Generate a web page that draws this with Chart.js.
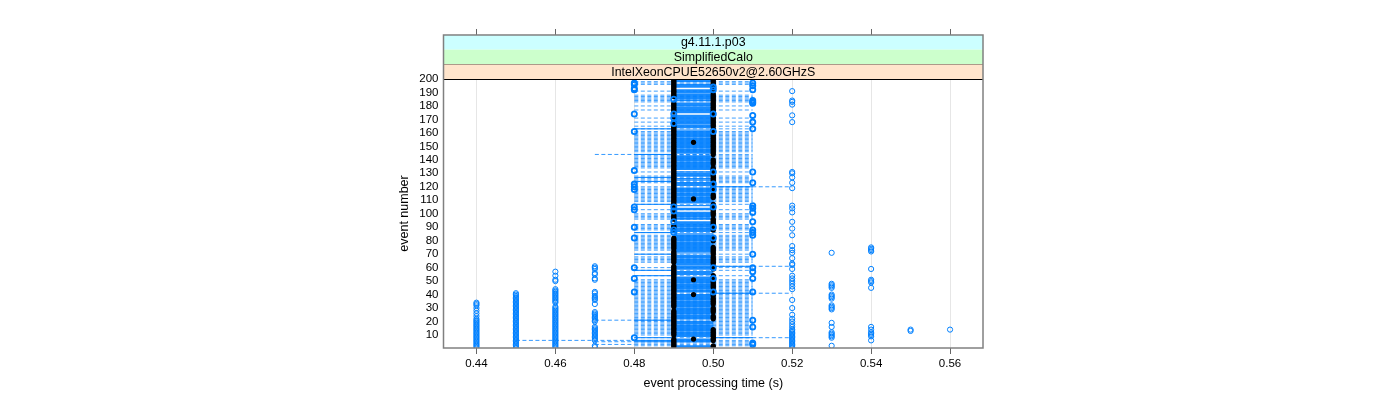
<!DOCTYPE html>
<html>
<head>
<meta charset="utf-8">
<title>event processing time</title>
<script src="https://cdn.jsdelivr.net/npm/chart.js@4"></script>
<style>
html, body { margin: 0; padding: 0; background: #fff; }
canvas { display: block; }
</style>
</head>
<body>
<canvas id="timeChart" width="1400" height="400"></canvas>
<script>
const xTicks = [0.44, 0.46, 0.48, 0.50, 0.52, 0.54, 0.56];
const yTicks = [10, 20, 30, 40, 50, 60, 70, 80, 90, 100, 110, 120, 130, 140, 150, 160, 170, 180, 190, 200];
const stripLabels = ["g4.11.1.p03", "SimplifiedCalo", "IntelXeonCPUE52650v2@2.60GHzS"];

// event numbers that have a run at each measured time (blue circles)
const events044 = [1,2,3,4,5,6,7,8,9,10,11,12,13,14,15,16,17,18,19,20,21,22,24,26,28,30,32,33,34];
const events045 = [1,2,3,4,5,6,7,8,9,10,11,12,13,14,15,16,17,18,19,20,21,22,23,24,25,26,27,28,29,30,31,32,33,34,35,36,37,38,39,40,41];
const events046 = [1,2,3,4,5,6,7,8,9,10,11,12,13,14,15,16,17,18,19,20,21,22,23,24,25,26,27,28,29,30,31,34,35,36,37,38,39,40,41,42,43,44,50,51,54,57];
const events047 = [1,2,6,7,8,9,10,11,12,13,14,15,16,20,21,22,23,24,25,26,27,33,36,37,38,39,41,42,51,52,55,56,59,60,61];
const events048 = [8,42,52,60,82,90,103,105,118,120,122,132,161,174,192,193,196,197];
const events049 = [86,88,94,102,105,167,171,174,185];
const events050 = [42,52,60,82,90,105,118,122,131,161,174,192,194];
const events051 = [3,4,16,21,42,52,57,60,70,84,86,88,94,101,104,106,123,131,163,168,173,182,183,184,192,195,197];
const events052 = [1,2,3,4,5,6,7,8,9,10,11,12,13,14,16,18,20,22,25,30,36,44,46,48,50,52,54,59,62,63,67,71,73,76,84,89,94,101,104,106,119,123,127,130,131,168,173,181,183,184,191];
const events053 = [2,8,9,10,11,12,16,19,29,30,31,32,37,38,39,40,45,46,47,48,71];
const events054 = [6,9,10,11,12,14,16,45,49,50,51,59,72,73,74,75];
const events055 = [13,14];
const events056 = [14];

// events whose median falls on each time (black dots)
const median049 = [1,2,3,4,5,6,7,10,11,12,13,14,15,16,17,18,19,20,21,22,23,24,25,26,27,28,31,32,33,34,35,36,37,38,39,40,41,42,43,44,45,46,47,48,49,50,51,52,53,54,55,56,57,58,59,60,61,64,65,66,67,68,69,70,71,72,74,75,76,77,78,79,80,81,82,88,89,90,91,96,97,98,99,102,105,107,108,109,110,111,112,113,114,115,116,117,118,119,120,121,122,123,124,125,126,127,128,129,130,131,132,133,134,135,136,137,138,139,140,141,142,143,144,145,146,147,148,149,150,151,152,153,154,155,156,157,158,159,160,161,162,163,164,165,166,168,172,176,177,178,179,180,181,182,187,188,189,190,191,192,193,194,195,196,197,198,199];
const median050 = [1,2,6,7,8,9,10,11,12,13,14,22,23,24,27,28,29,30,33,34,35,36,37,39,40,41,42,43,45,46,47,48,49,50,51,52,53,54,59,60,61,63,64,65,66,67,68,70,71,72,73,74,75,80,81,82,88,89,90,91,92,93,94,95,96,99,100,101,102,103,104,105,106,107,112,113,114,118,119,120,121,122,124,125,126,127,128,129,130,131,132,133,134,137,138,139,140,144,145,146,147,148,149,150,151,152,153,154,155,156,157,158,159,160,161,162,163,165,166,167,168,169,170,171,172,173,174,175,176,177,178,179,180,181,182,183,184,185,186,187,188,189,193,194,195,196,197,198,199];
const median0495 = [7, 40, 51, 111, 153];

// dashed rows running across the whole 0.48 - 0.51 block
const bandRows = [2,3,4,5,6,8,10,11,12,13,14,15,16,17,18,19,20,21,22,23,24,25,26,27,28,29,30,31,32,33,34,35,36,37,38,39,40,41,42,43,44,45,46,47,48,49,50,51,54,58,60,64,65,66,67,68,70,73,74,75,76,77,78,79,80,81,82,83,84,86,88,89,90,91,92,96,97,98,99,100,103,107,109,110,111,112,113,114,115,116,117,118,119,120,123,124,125,126,127,128,131,134,135,136,137,138,139,140,141,142,143,144,146,147,148,149,150,151,152,153,154,155,156,157,158,159,160,161,163,165,168,171,177,180,183,184,185,186,187,188,191,196,197,198];
// rows that are solid between 0.49 and 0.50
const coreRows = [1,2,5,6,7,9,10,11,12,13,14,15,16,17,18,19,20,22,23,24,25,26,27,28,29,30,31,32,33,34,35,36,37,38,39,40,42,43,44,45,46,47,48,49,50,51,52,53,55,56,57,59,60,61,62,63,64,65,66,67,68,69,71,72,73,74,75,76,77,78,79,80,81,82,83,84,85,87,88,89,90,91,92,93,94,96,97,98,99,100,101,103,104,106,108,109,110,111,112,113,114,115,116,117,118,119,121,122,123,125,126,128,129,130,131,133,134,135,136,137,138,139,140,141,142,143,145,146,147,148,149,150,151,152,153,154,155,156,157,158,159,160,161,162,164,165,166,167,168,169,170,171,172,173,175,176,177,178,179,180,181,182,184,185,186,187,188,189,190,191,192,194,195,196,198,199];
// rows that look solid on one side of the block
const solidLeftRows = [5,6,8,21,54,58,70,86,107,124,127,144,163];
const solidRightRows = [8,41,61,120];
// long dashed rows that reach out from the block: event, from, to
const longEvents = [144, 6, 5, 3, 21, 120, 61, 41, 8];
const longFrom = [0.47, 0.45, 0.47, 0.47, 0.47, 0.50, 0.50, 0.50, 0.50];
const longTo = [0.50, 0.48, 0.48, 0.48, 0.49, 0.52, 0.52, 0.52, 0.52];

const blue = "#0080ff";
const paleBlue = "rgba(0, 128, 255, 0.75)";

// one dataset with gaps: every row is its own dash run
function rowLine(rows, from, to) {
    const points = [];
    rows.forEach((row, i) => {
        points.push({ x: Array.isArray(from) ? from[i] : from, y: row });
        points.push({ x: Array.isArray(to) ? to[i] : to, y: row });
        points.push({ x: NaN, y: NaN });
    });
    return points;
}

function columnPoints(time, events) {
    return events.map(e => ({ x: time, y: e }));
}

const thinCircles = [
    ...columnPoints(0.44, events044), ...columnPoints(0.45, events045), ...columnPoints(0.46, events046),
    ...columnPoints(0.47, events047), ...columnPoints(0.52, events052), ...columnPoints(0.53, events053),
    ...columnPoints(0.54, events054), ...columnPoints(0.55, events055), ...columnPoints(0.56, events056)
];
// these columns hold repeated runs, so the circles print heavier
const heavyCircles = [
    ...columnPoints(0.48, events048), ...columnPoints(0.49, events049),
    ...columnPoints(0.50, events050), ...columnPoints(0.51, events051)
];

function lineDataset(label, data, dash, width, color, order) {
    return {
        type: "line", label, data, order,
        borderColor: color, borderWidth: width, borderDash: dash,
        pointRadius: 0, pointHoverRadius: 0, fill: false, tension: 0, spanGaps: false
    };
}

function circleDataset(label, data, width, order) {
    return {
        type: "scatter", label, data, order,
        pointStyle: "circle", pointRadius: 2.6, borderColor: blue, borderWidth: width,
        backgroundColor: "transparent"
    };
}

// strips, top ticks and the panel box sit outside what the scales draw
const latticeFrame = {
    id: "latticeFrame",
    afterDraw(chart) {
        const { ctx, chartArea: a, scales } = chart;
        const stripH = 14.67;
        const colors = ["#ccffff", "#ccffcc", "#ffe5cc"];
        ctx.save();
        ctx.font = "12.4px 'Liberation Sans'";
        ctx.textAlign = "center";
        ctx.textBaseline = "middle";
        stripLabels.forEach((label, i) => {
            const top = a.top - stripH * (3 - i);
            ctx.fillStyle = colors[i];
            ctx.fillRect(a.left, top, a.right - a.left, stripH);
            ctx.strokeStyle = "#000";
            ctx.lineWidth = 1;
            ctx.beginPath();
            ctx.moveTo(a.left, Math.round(top + stripH) + 0.5);
            ctx.lineTo(a.right, Math.round(top + stripH) + 0.5);
            ctx.stroke();
            ctx.fillStyle = "#000";
            ctx.fillText(label, (a.left + a.right) / 2, top + stripH / 2 + 0.5);
        });
        ctx.strokeStyle = "#666";
        xTicks.forEach(t => {
            const x = Math.round(scales.x.getPixelForValue(t)) + 0.5;
            ctx.beginPath();
            ctx.moveTo(x, a.top - stripH * 3);
            ctx.lineTo(x, a.top - stripH * 3 - 6);
            ctx.stroke();
        });
        ctx.strokeStyle = "#808080";
        ctx.lineWidth = 1.5;
        ctx.strokeRect(a.left, a.top - stripH * 3, a.right - a.left, a.bottom - a.top + stripH * 3);
        ctx.restore();
    }
};

const tickFont = { family: "'Liberation Sans'", size: 11.5 };
const titleFont = { family: "'Liberation Sans'", size: 12.5 };

new Chart(document.getElementById("timeChart").getContext("2d"), {
    data: {
        datasets: [
            circleDataset("repeated runs", heavyCircles, 1.8, 1),
            circleDataset("runs", thinCircles, 1, 2),
            {
                type: "scatter", label: "median", order: 3,
                data: [...columnPoints(0.49, median049), ...columnPoints(0.495, median0495), ...columnPoints(0.50, median050)],
                pointStyle: "circle", pointRadius: 2.6, borderWidth: 0, backgroundColor: "#000"
            },
            lineDataset("core", rowLine(coreRows, 0.49, 0.50), [], 1.3, "rgba(0, 128, 255, 0.9)", 4),
            lineDataset("left", rowLine(solidLeftRows, 0.48, 0.49), [], 1, blue, 5),
            lineDataset("right", rowLine(solidRightRows, 0.50, 0.51), [], 1, blue, 6),
            lineDataset("band", rowLine(bandRows, 0.48, 0.51), [4, 2.5], 1, paleBlue, 7),
            lineDataset("long", rowLine(longEvents, longFrom, longTo), [4, 2.5], 1, "rgba(0, 128, 255, 0.8)", 8)
        ]
    },
    options: {
        responsive: false,
        animation: false,
        events: [],
        layout: { padding: { left: 0, right: 417, top: 79, bottom: 0 } },
        plugins: { legend: { display: false }, tooltip: { enabled: false } },
        scales: {
            x: {
                type: "linear",
                min: 0.43165,
                max: 0.56835,
                afterBuildTicks: scale => { scale.ticks = xTicks.map(v => ({ value: v })); },
                afterFit: scale => { scale.height = 52; },
                grid: { color: "#e6e6e6", lineWidth: 1, tickLength: 6, tickColor: "#666" },
                border: { display: false },
                ticks: {
                    color: "#000", font: tickFont, padding: 3, maxRotation: 0, autoSkip: false,
                    callback: v => v.toFixed(2)
                },
                title: { display: true, text: "event processing time (s)", color: "#000", font: titleFont, padding: { top: 0, bottom: 9 } }
            },
            y: {
                type: "linear",
                min: 0.35,
                max: 200,
                afterBuildTicks: scale => { scale.ticks = yTicks.map(v => ({ value: v })); },
                afterFit: scale => { scale.width = 443.5; },
                grid: { display: false, drawTicks: false, tickLength: 0 },
                border: { display: false },
                ticks: { color: "#000", font: tickFont, padding: 5, autoSkip: false },
                title: { display: true, text: "event number", color: "#000", font: titleFont, padding: { top: 397, bottom: 0 } }
            }
        }
    },
    plugins: [latticeFrame]
});
</script>
</body>
</html>
